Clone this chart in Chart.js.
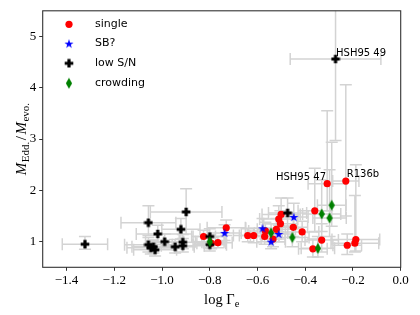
<!DOCTYPE html>
<html><head><meta charset="utf-8">
<script src="https://cdn.jsdelivr.net/npm/chart.js@4.4.1/dist/chart.umd.min.js"></script>
<style>html,body{margin:0;padding:0;background:#fff;}#wrap{width:420px;height:315px;position:relative;}</style>
</head><body><div id="wrap"><canvas id="c" width="420" height="315"></canvas></div>
<script>
// ---- data ----
const xTicks = [-1.4,-1.2,-1.0,-0.8,-0.6,-0.4,-0.2,0.0];
const xTickLabels = ["\u22121.4","\u22121.2","\u22121.0","\u22120.8","\u22120.6","\u22120.4","\u22120.2","0.0"];
const yTicks = [1,2,3,4,5];
const yTickLabels = ["1","2","3","4","5"];
const seriesNames = ["single","SB?","low S/N","crowding"];

const singleX = [-0.826,-0.794,-0.766,-0.731,-0.641,-0.616,-0.567,-0.570,-0.535,-0.521,-0.504,-0.511,-0.501,-0.450,-0.413,-0.360,-0.331,-0.368,-0.308,-0.230,-0.224,-0.188,-0.192];
const singleY = [1.10,0.97,0.98,1.27,1.12,1.12,1.21,1.10,1.05,1.24,1.35,1.44,1.53,1.28,1.19,1.60,1.03,0.86,2.13,2.18,0.93,1.04,0.97];
const singleXErr = [0.05,0.06,0.06,0.08,0.06,0.06,0.07,0.06,0.05,0.08,0.07,0.08,0.08,0.06,0.07,0.07,0.07,0.06,0.08,0.055,0.06,0.10,0.10];
const singleYLo = [0.98,0.86,0.88,1.12,1.00,0.98,1.05,0.95,0.90,1.05,1.15,1.20,1.30,1.10,1.00,1.20,0.80,0.70,1.60,1.50,0.75,0.82,0.80];
const singleYHi = [1.22,1.08,1.10,1.42,1.25,1.26,1.38,1.26,1.20,1.45,1.60,1.70,1.85,1.50,1.40,2.43,1.35,1.05,3.55,4.06,1.15,2.50,1.90];

const sbX = [-0.738,-0.579,-0.543,-0.511,-0.448];
const sbY = [1.17,1.26,1.00,1.15,1.48];
const sbXErr = [0.07,0.07,0.06,0.06,0.06];
const sbYLo = [1.02,1.10,0.86,1.00,1.25];
const sbYHi = [1.33,1.45,1.15,1.32,1.75];

const lowX = [-1.323,-1.057,-0.899,-1.018,-0.921,-0.989,-1.057,-1.036,-1.029,-1.047,-0.945,-0.913,-0.913,-0.800,-0.800,-0.474,-0.273];
const lowY = [0.95,1.37,1.58,1.15,1.24,1.00,0.94,0.90,0.84,0.88,0.90,0.99,0.92,1.10,0.94,1.56,4.56];
const lowXErr = [0.095,0.115,0.15,0.09,0.08,0.08,0.10,0.09,0.09,0.10,0.08,0.08,0.09,0.07,0.07,0.08,0.19];
const lowYLo = [0.85,1.12,1.15,1.00,1.05,0.88,0.80,0.78,0.72,0.76,0.78,0.86,0.80,0.96,0.82,1.30,2.97];
const lowYHi = [1.10,1.70,2.03,1.32,1.45,1.15,1.08,1.03,0.98,1.02,1.04,1.14,1.06,1.25,1.08,1.85,6.20];

const crowdX = [-0.800,-0.543,-0.454,-0.331,-0.298,-0.289,-0.347];
const crowdY = [1.00,1.17,1.08,1.54,1.46,1.71,0.87];
const crowdXErr = [0.06,0.07,0.07,0.08,0.07,0.06,0.07];
const crowdYLo = [0.88,1.00,0.90,1.20,1.10,1.30,0.70];
const crowdYHi = [1.13,1.35,1.30,2.20,2.40,2.94,1.10];

const annotLabels = ["HSH95 49","HSH95 47","R136b"];
const annotX = [-0.271,-0.313,-0.226];
const annotY = [4.666,2.256,2.302];
const annotAlign = ["left","right","left"];

// ---- marker images ----
function mk(w,h,f){const c=document.createElement('canvas');c.width=w;c.height=h;const g=c.getContext('2d');f(g);return c;}
const starImg = mk(10,10,g=>{g.fillStyle='#0000ff';g.beginPath();for(let k=0;k<10;k++){const r=k%2?1.85:4.8;const a=-Math.PI/2+k*Math.PI/5;const px=5+r*Math.cos(a),py=5.4+r*Math.sin(a);k?g.lineTo(px,py):g.moveTo(px,py);}g.closePath();g.fill();});
const plusImg = mk(10,10,g=>{g.fillStyle='#000';const c=5,t=1.6,l=4.3;g.beginPath();g.moveTo(c-t,c-l);g.lineTo(c+t,c-l);g.lineTo(c+t,c-t);g.lineTo(c+l,c-t);g.lineTo(c+l,c+t);g.lineTo(c+t,c+t);g.lineTo(c+t,c+l);g.lineTo(c-t,c+l);g.lineTo(c-t,c+t);g.lineTo(c-l,c+t);g.lineTo(c-l,c-t);g.lineTo(c-t,c-t);g.closePath();g.fill();});
const diaImg = mk(8,12,g=>{g.fillStyle='#008000';g.beginPath();g.moveTo(4,0.6);g.lineTo(7.1,6);g.lineTo(4,11.4);g.lineTo(0.9,6);g.closePath();g.fill();});

const series = [
 {x:singleX,y:singleY,xe:singleXErr,ylo:singleYLo,yhi:singleYHi},
 {x:sbX,y:sbY,xe:sbXErr,ylo:sbYLo,yhi:sbYHi},
 {x:lowX,y:lowY,xe:lowXErr,ylo:lowYLo,yhi:lowYHi},
 {x:crowdX,y:crowdY,xe:crowdXErr,ylo:crowdYLo,yhi:crowdYHi}
];
const pts = (xs,ys)=>xs.map((v,i)=>({x:v,y:ys[i]}));

const SERIF = '"Liberation Serif","DejaVu Serif",serif';
const SANS = '"DejaVu Sans",sans-serif';

const plugin = {
 id:'custom',
 beforeDatasetsDraw(chart){
  const {ctx, chartArea:a, scales:{x,y}} = chart;
  ctx.save();
  ctx.beginPath();ctx.rect(a.left,a.top,a.right-a.left,a.bottom-a.top);ctx.clip();
  ctx.strokeStyle='#d3d3d3';ctx.lineWidth=1.5;
  const cap=6;
  series.forEach(s=>{
   for(let i=0;i<s.x.length;i++){
    const px=x.getPixelForValue(s.x[i]), py=y.getPixelForValue(s.y[i]);
    const x0=x.getPixelForValue(s.x[i]-s.xe[i]), x1=x.getPixelForValue(s.x[i]+s.xe[i]);
    const y0=y.getPixelForValue(s.ylo[i]), y1=y.getPixelForValue(s.yhi[i]);
    ctx.beginPath();
    ctx.moveTo(x0,py);ctx.lineTo(x1,py);
    ctx.moveTo(px,y0);ctx.lineTo(px,y1);
    ctx.moveTo(x0,py-cap);ctx.lineTo(x0,py+cap);
    ctx.moveTo(x1,py-cap);ctx.lineTo(x1,py+cap);
    ctx.moveTo(px-cap,y0);ctx.lineTo(px+cap,y0);
    ctx.moveTo(px-cap,y1);ctx.lineTo(px+cap,y1);
    ctx.stroke();
   }
  });
  ctx.restore();
 },
 afterDraw(chart){
  const {ctx, chartArea:a, scales:{x,y}} = chart;
  ctx.save();
  // frame
  ctx.strokeStyle='#333';ctx.lineWidth=1.1;
  ctx.strokeRect(a.left,a.top,a.right-a.left,a.bottom-a.top);
  // annotations
  ctx.fillStyle='#000';ctx.font='10px '+SANS;ctx.textBaseline='middle';
  annotLabels.forEach((t,i)=>{ctx.textAlign=annotAlign[i];ctx.fillText(t,x.getPixelForValue(annotX[i]),y.getPixelForValue(annotY[i]));});
  // legend
  const lx=69, rows=[24.3,43.6,63.3,83.3], tx=95;
  ctx.textAlign='left';ctx.font='11px '+SANS;
  ctx.fillStyle='#ff0000';ctx.beginPath();ctx.arc(lx,rows[0],3.6,0,Math.PI*2);ctx.fill();
  ctx.drawImage(starImg,lx-5,rows[1]-5);
  ctx.drawImage(plusImg,lx-5,rows[2]-5);
  ctx.drawImage(diaImg,lx-4,rows[3]-6);
  ctx.fillStyle='#000';
  seriesNames.forEach((t,i)=>ctx.fillText(t,tx,rows[i]));
  // x title: log Γe
  ctx.textBaseline='alphabetic';
  const big='14.5px '+SERIF, small='10.5px '+SERIF;
  ctx.font=big; const w1=ctx.measureText('log \u0393').width;
  ctx.font=small; const w2=ctx.measureText('e').width;
  let sx=(a.left+a.right)/2-(w1+w2)/2, by=304;
  ctx.font=big;ctx.fillText('log \u0393',sx,by);
  ctx.font=small;ctx.fillText('e',sx+w1,by+3);
  // y title
  ctx.translate(21,(a.top+a.bottom)/2);ctx.rotate(-Math.PI/2);
  const sub='11px '+SERIF;
  const parts=[['M','italic 15px '+SERIF,0,0.5],['Edd.',sub,3,1.5],['/','15px '+SERIF,0,1.5],['M','italic 15px '+SERIF,0,0.5],['evo.',sub,3,0]];
  let tw=0;parts.forEach(p=>{ctx.font=p[1];tw+=ctx.measureText(p[0]).width+p[3];});
  let cx=-tw/2;
  parts.forEach(p=>{ctx.font=p[1];ctx.fillText(p[0],cx,5+p[2]);cx+=ctx.measureText(p[0]).width+p[3];});
  ctx.restore();
 }
};

new Chart(document.getElementById('c'),{
 type:'scatter',
 data:{datasets:[
  {label:seriesNames[0],data:pts(singleX,singleY),pointStyle:'circle',pointRadius:3.6,backgroundColor:'#ff0000',borderWidth:0,order:4},
  {label:seriesNames[1],data:pts(sbX,sbY),pointStyle:starImg,pointRadius:5,order:3},
  {label:seriesNames[2],data:pts(lowX,lowY),pointStyle:plusImg,pointRadius:5,order:2},
  {label:seriesNames[3],data:pts(crowdX,crowdY),pointStyle:diaImg,pointRadius:5,order:1}
 ]},
 options:{
  responsive:false,animation:false,devicePixelRatio:1,
  layout:{padding:{top:6.5,right:19.3,left:0,bottom:0}},
  plugins:{legend:{display:false},tooltip:{enabled:false}},
  scales:{
   x:{type:'linear',min:-1.5,max:0.0,
      afterBuildTicks:s=>{s.ticks=xTicks.map(v=>({value:v}));},
      afterFit:s=>{s.height=47.7;},
      ticks:{callback:(v,i)=>xTickLabels[i],color:'#000',font:{family:SERIF,size:13},padding:2,maxRotation:0,autoSkip:false},
      grid:{drawOnChartArea:false,drawTicks:true,tickLength:3.5,color:'#333',lineWidth:1},
      border:{display:false}},
   y:{type:'linear',min:0.5,max:5.5,
      afterBuildTicks:s=>{s.ticks=yTicks.map(v=>({value:v}));},
      afterFit:s=>{s.width=42.7;},
      ticks:{callback:(v,i)=>yTickLabels[i],color:'#000',font:{family:SERIF,size:13},padding:3,autoSkip:false},
      grid:{drawOnChartArea:false,drawTicks:true,tickLength:3.5,color:'#333',lineWidth:1},
      border:{display:false}}
  }
 },
 plugins:[plugin]
});
</script></body></html>
